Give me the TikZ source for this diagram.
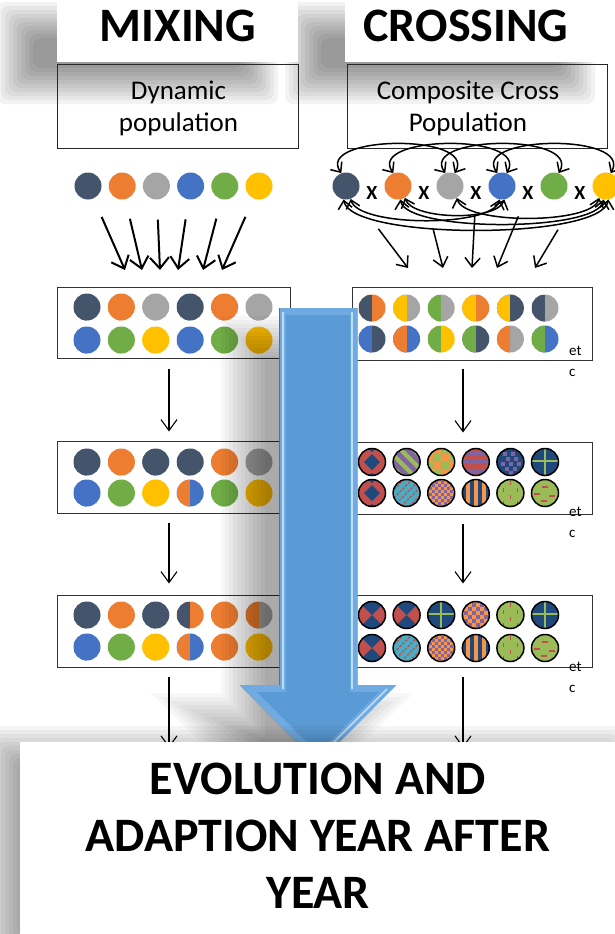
\documentclass[tikz,border=0pt]{standalone}
\usepackage{fontspec}
\setmainfont{Carlito}
\usetikzlibrary{arrows.meta}

% plant colours
\definecolor{slate}{HTML}{44546A}
\definecolor{orng}{HTML}{ED7D31}
\definecolor{grey}{HTML}{A5A5A5}
\definecolor{blu}{HTML}{4472C4}
\definecolor{grn}{HTML}{70AD47}
\definecolor{gold}{HTML}{FFC000}
% colours of the patterned (crossed) plants
\definecolor{pred}{HTML}{C0504D}
\definecolor{pnavy}{HTML}{1F497D}
\definecolor{pgreen}{HTML}{9BBB59}
\definecolor{ppurple}{HTML}{8064A2}
\definecolor{pcyan}{HTML}{4BACC6}
\definecolor{porange}{HTML}{F79646}
% big arrow
\definecolor{arrowblue}{HTML}{5B9BD5}
\definecolor{arrowedge}{HTML}{6FAAE0}
\definecolor{arrowglow}{HTML}{D2ECFF}

% patterns, drawn around the centre of a dot
\newcommand\patargyle{%
  \fill[pred] (-15,-15) rectangle (15,15);
  \fill[pnavy] (0,-8) -- (8,0) -- (0,8) -- (-8,0) -- cycle;
  \fill[pnavy] (-6,-15) -- (6,-15) -- (0,-10) -- cycle;
  \fill[pnavy] (-8,15) -- (8,15) -- (0,11) -- cycle;}
\newcommand\patbowtie{%
  \fill[pred] (-15,-15) rectangle (15,15);
  \fill[pnavy] (-15,-15) -- (15,-15) -- (0,0) -- cycle;
  \fill[pnavy] (-15,15) -- (15,15) -- (0,0) -- cycle;}
\newcommand\patwide{%
  \fill[pgreen] (-15,-15) rectangle (15,15);
  \foreach \d in {-26,-13,0,13,26}
    \draw[ppurple,line width=4.5pt] (\d-16,-16) -- (\d+16,16);}
\newcommand\patcheck{%
  \fill[porange] (-15,-15) rectangle (15,15);
  \foreach \i in {-2,...,1}
    \foreach \j in {-2,...,1}{
      \pgfmathtruncatemacro\odd{mod(\i+\j+4,2)}
      \ifnum\odd=0 \fill[pgreen] (8*\i,8*\j) rectangle +(8,8);\fi}}
\newcommand\patchecksmall{%
  \fill[porange] (-15,-15) rectangle (15,15);
  \foreach \i in {-4,...,3}
    \foreach \j in {-4,...,3}{
      \pgfmathtruncatemacro\odd{mod(\i+\j+8,2)}
      \ifnum\odd=0 \fill[ppurple] (4*\i,4*\j) rectangle +(4,4);\fi}}
\newcommand\patfine{%
  \fill[porange] (-15,-15) rectangle (15,15);
  \begin{scope}[rotate=45]
  \foreach \i in {-7,...,6}
    \foreach \j in {-7,...,6}{
      \pgfmathtruncatemacro\odd{mod(\i+\j+14,2)}
      \ifnum\odd=0 \fill[ppurple] (3*\i,3*\j) rectangle +(3,3);\fi}
  \end{scope}}
\newcommand\patbands{%
  \fill[pred] (-15,-15) rectangle (15,15);
  \foreach \y in {-9,0,9}
    \fill[ppurple] (-15,\y-2.25) rectangle (15,\y+2.25);}
\newcommand\patvbars{%
  \fill[porange] (-15,-15) rectangle (15,15);
  \foreach \x in {-12,-4,4,12}
    \fill[pnavy] (\x-2,-15) rectangle (\x+2,15);}
\newcommand\patsquares{%
  \fill[pnavy] (-15,-15) rectangle (15,15);
  \foreach \x/\y in {-7/-10,1/-10,-4/-5,4/-5,-9/0,-1/0,7/0,-5/5,3/5,-1/9}
    \fill[ppurple] (\x,\y) rectangle ++(3.5,3.5);}
\newcommand\patcross{%
  \fill[pnavy] (-15,-15) rectangle (15,15);
  \draw[pgreen,line width=1.6pt] (-15,-1) -- (15,-1) (0,-15) -- (0,15);}
\newcommand\patdiag{%
  \fill[pcyan] (-15,-15) rectangle (15,15);
  \foreach \d in {-24,-16,...,24}
    \draw[pred,line width=1.3pt,dash pattern=on 2.5pt off 1.5pt] (\d-16,16) -- (\d+16,-16);}
\newcommand\patticks{%
  \fill[pgreen] (-15,-15) rectangle (15,15);
  \foreach \x/\y in {0/-12,-7/-5,7/-5,0/2,-7/8,7/8}
    \draw[pred,line width=1.6pt] (\x,\y) -- ++(0,4);}
\newcommand\patdashes{%
  \fill[pgreen] (-15,-15) rectangle (15,15);
  \foreach \x/\y in {-3/-6,-11/1,4/3,-4/8}
    \draw[pred,line width=1.6pt] (\x,\y) -- ++(6,0);}

% soft shadow: stacked see-through rectangles, #1..#4 corners, #5 opacity of a layer
\newcommand\softbox[5]{%
  \foreach \t in {-20,-16,...,16}
    \fill[black,opacity=#5,rounded corners=8pt] (#1+\t,#2+\t) rectangle (#3-\t,#4-\t);}

% outline of the big arrow, moved in by #1 and shifted by (#2,#3), filled with #4
\newcommand\arrowlayer[4]{%
  \pgfmathsetmacro\al{279+#1+#2}
  \pgfmathsetmacro\ar{357-#1+#2}
  \pgfmathsetmacro\at{308+#1+#3}
  \pgfmathsetmacro\as{685+#1+#3}
  \pgfmathsetmacro\hr{396-2.4142*#1+#2}
  \pgfmathsetmacro\hl{240+2.4142*#1+#2}
  \pgfmathsetmacro\tx{318+#2}
  \pgfmathsetmacro\ty{763-1.4142*#1+#3}
  \fill[#4] (\al,\at) -- (\ar,\at) -- (\ar,\as) -- (\hr,\as) -- (\tx,\ty)
    -- (\hl,\as) -- (\al,\as) -- cycle;}

\begin{document}
\begin{tikzpicture}[x=1pt,y=-1pt,
    dot/.style={circle,inner sep=0pt,minimum size=27pt},
    halfdot/.style 2 args={dot,fill=#2,path picture={
        \fill[fill=#1] (path picture bounding box.south west) rectangle (path picture bounding box.north);}},
    pdot/.style={dot,path picture={
        \begin{scope}[shift={(path picture bounding box.center)}]\csname pat#1\endcsname\end{scope}},
      postaction={draw=black,line width=1.5pt}},
    titleblock/.style={fill=white,inner sep=0pt,minimum height=62pt},
    title/.style={font=\fontsize{48}{56}\selectfont\bfseries,inner sep=0pt},
    popbox/.style={draw=black!85,line width=1pt,minimum height=83pt,inner sep=0pt},
    poptext/.style={align=center,font=\fontsize{27}{32}\selectfont,inner sep=0pt},
    stack/.style={draw=black!80,line width=1pt,inner sep=0pt},
    etc/.style={font=\fontsize{15}{21}\selectfont,align=left,anchor=west,inner sep=0pt},
    cross mark/.style={font=\fontsize{20}{20}\selectfont\bfseries,inner sep=0pt},
    mixarrow/.style={line width=2pt,shorten <=20pt,-{Straight Barb[length=11pt,width=19pt]}},
    mate/.style={line width=1.5pt,{Straight Barb[length=8pt,width=14pt]}-{Straight Barb[length=8pt,width=14pt]}},
    offspring/.style={line width=1.5pt,-{Straight Barb[length=9pt,width=15pt]}},
    flow/.style={line width=1.1pt,-{Straight Barb[length=11pt,width=16pt]}}]

\useasboundingbox (0,0) rectangle (615,934);
\fill[white] (0,0) rectangle (615,934);

% headings
\softbox{17}{22}{258}{84}{.048}
\softbox{305}{22}{575}{84}{.048}
\node[titleblock,minimum width=241pt] (mixblock) at (177.5,31) {};
\node[titleblock,minimum width=272pt] (crossblock) at (481,31) {};
\node[title] (mixtitle) at (178,26) {MIXING};
\node[title] (crosstitle) at (466,26) {CROSSING};

\node[popbox,minimum width=241pt] (dyn) at (177.5,106.5) {};
\node[popbox,minimum width=260pt] (ccp) at (477,106.5) {};
\node[poptext] (dyntext) at (178.5,108) {Dynamic\\population};
\node[poptext] (ccptext) at (468,108) {Composite Cross\\Population};

% mixing: parents go straight into the population
\foreach \c [count=\i] in {slate,orng,grey,blu,grn,gold}
  \node[dot,fill=\c] (m\i) at ({88+34.2*(\i-1)},186) {};
\foreach \i/\x in {1/125,2/142,3/160,4/178,5/203,6/222}
  \coordinate (mt\i) at (\x,270);
\foreach \i in {1,...,6}
  \draw[mixarrow] (m\i) -- (mt\i);

% crossing: every parent crossed with the others
\foreach \c [count=\i] in {slate,orng,grey,blu,grn,gold}
  \node[dot,fill=\c] (k\i) at ({346+52*(\i-1)},186) {};
\foreach \i in {1,...,5}
  \node[cross mark] (x\i) at ({372+52*(\i-1)},193) {X};
\draw[mate] (k1.110) to[out=125,in=60,looseness=1.05] (k3.70);
\draw[mate] (k2.110) to[out=125,in=60,looseness=1.05] (k4.70);
\draw[mate] (k3.110) to[out=125,in=60,looseness=1.05] (k5.70);
\draw[mate] (k4.110) to[out=125,in=60,looseness=1.05] (k6.70);
\draw[mate] (k1.-100) to[out=-80,in=-100,looseness=.4] (k6.-80);
\draw[mate] (k1.-70) to[out=-75,in=-105,looseness=.5] (k4.-100);
\draw[mate] (k2.-80) to[out=-80,in=-100,looseness=.42] (k6.-100);
\draw[mate] (k3.-60) to[out=-75,in=-105,looseness=.5] (k6.-120);
\draw[mate] (k2.-60) to[out=-70,in=-110,looseness=.6] (k4.-80);
\foreach \i/\x in {1/408,2/443,3/472,4/497,5/535}
  \coordinate (kt\i) at (\x,268);
\draw[offspring,shorten <=40pt] (k1) -- (kt1);
\draw[offspring,shorten <=30pt] (x2) -- (kt2);
\draw[offspring,shorten <=16pt] (x3) -- (kt3);
\draw[offspring,shorten <=18pt] (x4) -- (kt4);
\draw[offspring,shorten <=35pt] (x5) -- (kt5);

% mixed populations, year after year
\node[stack,minimum width=233pt,minimum height=71pt] (L1) at (173.5,322.5) {};
\node[stack,minimum width=233pt,minimum height=72pt] (L2) at (173.5,477) {};
\node[stack,minimum width=233pt,minimum height=72pt] (L3) at (173.5,631) {};
\foreach \a/\b [count=\i] in {slate/slate,orng/orng,grey/grey,slate/slate,orng/orng,grey/grey}
  \node[halfdot={\a}{\b}] (L1a\i) at ({87+34.4*(\i-1)},307) {};
\foreach \a/\b [count=\i] in {blu/blu,grn/grn,gold/gold,blu/blu,grn/grn,gold/gold}
  \node[halfdot={\a}{\b}] (L1b\i) at ({87+34.4*(\i-1)},340) {};
\foreach \a/\b [count=\i] in {slate/slate,orng/orng,slate/slate,slate/slate,orng/orng,grey/grey}
  \node[halfdot={\a}{\b}] (L2a\i) at ({87+34.4*(\i-1)},462) {};
\foreach \a/\b [count=\i] in {blu/blu,grn/grn,gold/gold,orng/blu,grn/grn,gold/gold}
  \node[halfdot={\a}{\b}] (L2b\i) at ({87+34.4*(\i-1)},493) {};
\foreach \a/\b [count=\i] in {slate/slate,orng/orng,slate/slate,slate/orng,orng/orng,orng/grey}
  \node[halfdot={\a}{\b}] (L3a\i) at ({87+34.4*(\i-1)},615) {};
\foreach \a/\b [count=\i] in {blu/blu,grn/grn,gold/gold,orng/blu,orng/orng,gold/gold}
  \node[halfdot={\a}{\b}] (L3b\i) at ({87+34.4*(\i-1)},647) {};

% crossed populations
\node[stack,minimum width=240pt,minimum height=73pt] (R1) at (472,323.5) {};
\node[stack,minimum width=240pt,minimum height=72pt] (R2) at (472,478) {};
\node[stack,minimum width=240pt,minimum height=72pt] (R3) at (472,631) {};
\foreach \a/\b [count=\i] in {slate/orng,gold/grey,grn/grey,gold/orng,gold/slate,slate/grey}
  \node[halfdot={\a}{\b}] (R1a\i) at ({372+34.6*(\i-1)},308) {};
\foreach \a/\b [count=\i] in {blu/slate,orng/blu,grn/gold,grn/slate,orng/grey,grn/blu}
  \node[halfdot={\a}{\b}] (R1b\i) at ({372+34.6*(\i-1)},339) {};
\foreach \p [count=\i] in {argyle,wide,check,bands,squares,cross}
  \node[pdot=\p] (R2a\i) at ({372+34.6*(\i-1)},462) {};
\foreach \p [count=\i] in {argyle,diag,fine,vbars,ticks,dashes}
  \node[pdot=\p] (R2b\i) at ({372+34.6*(\i-1)},493) {};
\foreach \p [count=\i] in {bowtie,bowtie,cross,checksmall,ticks,cross}
  \node[pdot=\p] (R3a\i) at ({372+34.6*(\i-1)},615) {};
\foreach \p [count=\i] in {bowtie,diag,fine,vbars,ticks,dashes}
  \node[pdot=\p] (R3b\i) at ({372+34.6*(\i-1)},648) {};
\node[etc] (etc1) at (569,361) {et\\c};
\node[etc] (etc2) at (569,522) {et\\c};
\node[etc] (etc3) at (569,677) {et\\c};

% year to year
\coordinate (lx) at (169,0);
\coordinate (rx) at (463,0);
\draw[flow,shorten <=10pt,shorten >=9pt] (L1.south -| lx) -- (L2.north -| lx);
\draw[flow,shorten <=9pt,shorten >=11pt] (L2.south -| lx) -- (L3.north -| lx);
\draw[flow,shorten <=8pt,shorten >=9pt] (R1.south -| rx) -- (R2.north -| rx);
\draw[flow,shorten <=9pt,shorten >=11pt] (R2.south -| rx) -- (R3.north -| rx);

% big arrow down the middle, with its shadow
\foreach \t in {-22,-18,...,22}
  \arrowlayer{\t}{-36}{30}{black,opacity=.033}
\arrowlayer{0}{0}{0}{arrowedge}
\arrowlayer{7}{0}{0}{arrowblue}
\draw[arrowglow,line width=1.6pt,opacity=.8] (283,312) -- (283,689) (352,312) -- (352,689)
  (387,689) -- (318,758);
\draw[arrowblue!75!black,line width=.6pt] (279,308) -- (279,685);

% evolution
\softbox{1}{746}{606}{950}{.04}
\node[fill=white,inner sep=0pt,minimum width=600pt,minimum height=200pt] (evo) at (320,842) {};
\draw[flow,shorten <=9pt,shorten >=-6pt] (L3.south -| lx) -- (evo.north -| lx);
\draw[flow,shorten <=9pt,shorten >=-6pt] (R3.south -| rx) -- (evo.north -| rx);
\fill[white] (20,742) rectangle (615,934);
\node[font=\fontsize{48}{57}\selectfont\bfseries,align=center] (evotext) at (318,836)
  {EVOLUTION AND\\ADAPTION YEAR AFTER\\YEAR};
\end{tikzpicture}
\end{document}
